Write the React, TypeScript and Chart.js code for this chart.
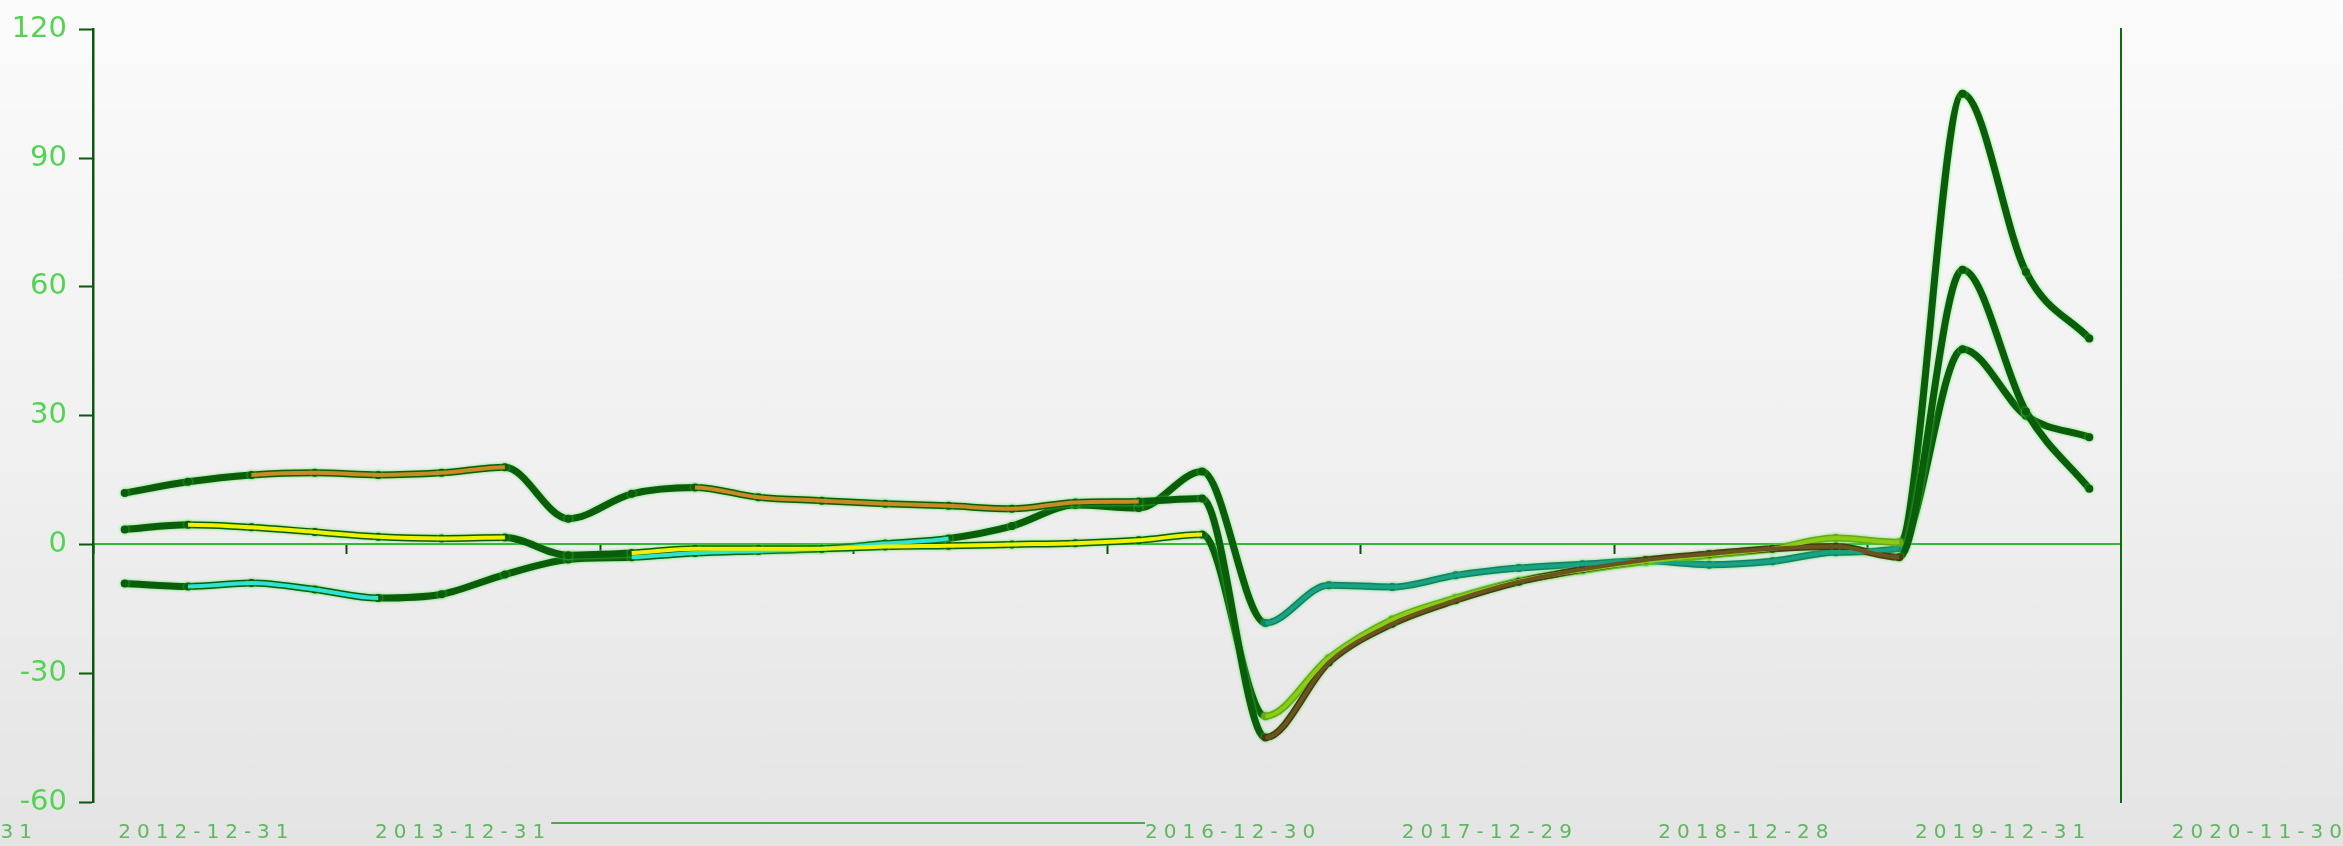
import React, { useEffect, useRef } from 'react';
import { Chart, registerables } from 'chart.js';

Chart.register(...registerables);

// ---- data ----
const CATEGORIES = [
  '2013-03-31', '2013-06-30', '2013-09-30', '2013-12-31',
  '2014-03-31', '2014-06-30', '2014-09-30', '2014-12-31',
  '2015-03-31', '2015-06-30', '2015-09-30', '2015-12-31',
  '2016-03-31', '2016-06-30', '2016-09-30', '2016-12-31',
  '2017-03-31', '2017-06-30', '2017-09-30', '2017-12-31',
  '2018-03-31', '2018-06-30', '2018-09-30', '2018-12-31',
  '2019-03-31', '2019-06-30', '2019-09-30', '2019-12-31',
  '2020-03-31', '2020-06-30', '2020-09-30', '2020-12-31',
];

const SERIES_A = [12, 14.6, 16.2, 16.7, 16.2, 16.7, 18, 6, 11.8, 13.3, 11, 10.2, 9.5, 9, 8.3, 9.8, 10, 10.7, -45, -27.5, -18.5, -13, -8.7, -5.8, -3.6, -2.2, -1, -0.5, -3, 64, 31, 13];
const SERIES_B = [3.5, 4.6, 4, 2.9, 1.8, 1.4, 1.6, -2.5, -2, -1, -1, -1, -0.5, -0.3, 0, 0.3, 1, 2.3, -40, -26.5, -17.5, -12.5, -8.5, -6, -4, -2.5, -1, 1.5, 0.5, 105, 63.5, 48];
const SERIES_C = [-9.1, -9.8, -9, -10.5, -12.5, -11.6, -7, -3.5, -3, -2, -1.5, -1, 0.2, 1.4, 4.3, 9.2, 8.5, 17, -18.3, -9.5, -9.9, -7.2, -5.5, -4.6, -3.8, -4.7, -3.9, -1.8, -0.9, 45.5, 30, 25];

const Y_MIN = -60;
const Y_MAX = 120;
const Y_STEP = 30;

const BOTTOM_LABELS = ['2011-12-31', '2012-12-31', '2013-12-31', '', '', '2016-12-30', '2017-12-29', '2018-12-28', '2019-12-31', '2020-11-30'];

// ---- styles ----
const DARK = '#0a5e0a';
const DIP_FIRST = 18;
const DIP_LAST = 28;

const STYLES = [
  { name: 'A', data: SERIES_A, color: '#cc8a22', dipEdge: '#4a3a12', dipCore: '#6a5520', hl: [[2, 6], [9, 16]] },
  { name: 'B', data: SERIES_B, color: '#f0f000', dipEdge: '#6aa812', dipCore: '#8ccc16', hl: [[1, 6], [8, 17]] },
  { name: 'C', data: SERIES_C, color: '#2ee3d6', dipEdge: '#11806a', dipCore: '#1aa383', hl: [[1, 4], [8, 13]] },
];

const inRanges = (i: number, ranges: number[][]) => ranges.some(([a, b]) => i >= a && i < b);
const inDipSeg = (i: number) => i >= DIP_FIRST && i < DIP_LAST;
const inDipPt = (i: number) => i >= DIP_FIRST && i <= DIP_LAST;

const glowPlugin = {
  id: 'glow',
  beforeDatasetDraw(chart: any, args: any) {
    if (chart.data.datasets[args.index].order === 1) {
      const c = chart.ctx;
      c.save();
      c.shadowColor = 'rgba(80,225,80,0.85)';
      c.shadowBlur = 3;
    }
  },
  afterDatasetDraw(chart: any, args: any) {
    if (chart.data.datasets[args.index].order === 1) {
      chart.ctx.restore();
    }
  },
};

const bottomLabelsPlugin = {
  id: 'bottomLabels',
  afterDraw(chart: any) {
    const { ctx, chartArea } = chart;
    const catW = (chartArea.right - chartArea.left) / CATEGORIES.length;
    const step = catW * 4.05;
    const x0 = chartArea.left + catW * 1.79 - step;
    const yText = chartArea.bottom + 31;
    ctx.save();
    ctx.font = '20px "DejaVu Sans"';
    try { (ctx as any).letterSpacing = '6px'; } catch (e) {}
    const half = ctx.measureText('2016-12-30').width / 2;
    ctx.textAlign = 'center';
    ctx.textBaseline = 'middle';
    ctx.fillStyle = 'rgba(45,165,45,0.72)';
    BOTTOM_LABELS.forEach((t, k) => {
      if (t) ctx.fillText(t, x0 + k * step, yText);
    });
    // overline across the run of empty label slots
    let k = 0;
    while (k < BOTTOM_LABELS.length) {
      if (!BOTTOM_LABELS[k]) {
        let e = k;
        while (e < BOTTOM_LABELS.length && !BOTTOM_LABELS[e]) e++;
        const xa = x0 + (k - 1) * step + half;
        const xb = x0 + e * step - half;
        ctx.strokeStyle = 'rgba(40,150,40,0.8)';
        ctx.lineWidth = 2;
        ctx.beginPath();
        ctx.moveTo(xa, yText - 10);
        ctx.lineTo(xb, yText - 10);
        ctx.stroke();
        k = e;
      } else {
        k++;
      }
    }
    ctx.restore();
  },
};

export default function App() {
  const canvasRef = useRef<HTMLCanvasElement | null>(null);

  useEffect(() => {
    if (!canvasRef.current) return;

    const cores = STYLES.map((s) => ({
      label: s.name + ' core',
      data: s.data,
      borderColor: s.color,
      borderWidth: 4,
      pointRadius: 0,
      tension: 0.4,
      cubicInterpolationMode: 'monotone' as const,
      order: 0,
      segment: {
        borderColor: (ctx: any) =>
          inDipSeg(ctx.p0DataIndex) ? s.dipCore : inRanges(ctx.p0DataIndex, s.hl) ? s.color : 'rgba(0,0,0,0)',
      },
    }));

    const outlines = STYLES.map((s) => ({
      label: s.name,
      data: s.data,
      borderColor: DARK,
      borderWidth: 7,
      pointRadius: 4,
      pointBorderWidth: 0,
      pointBackgroundColor: (ctx: any) => (inDipPt(ctx.dataIndex) ? s.dipEdge : DARK),
      tension: 0.4,
      cubicInterpolationMode: 'monotone' as const,
      order: 1,
      segment: {
        borderColor: (ctx: any) => (inDipSeg(ctx.p0DataIndex) ? s.dipEdge : DARK),
      },
    }));

    const chart = new Chart(canvasRef.current, {
      type: 'line',
      data: { labels: CATEGORIES, datasets: [...cores, ...outlines] as any },
      options: {
        animation: false,
        responsive: true,
        maintainAspectRatio: false,
        events: [],
        layout: { padding: { top: 25, bottom: 44, left: 0, right: 0 } },
        plugins: { legend: { display: false }, tooltip: { enabled: false } },
        scales: {
          x: {
            type: 'category',
            position: { y: 0 } as any,
            offset: true,
            ticks: { display: false },
            grid: {
              offset: true,
              drawOnChartArea: false,
              drawTicks: true,
              tickLength: 9,
              tickWidth: 2,
              tickColor: (ctx: any) => (typeof ctx.index === 'number' && ctx.index % 4 === 0 ? '#0b4f0b' : 'rgba(0,0,0,0)'),
            },
            border: { display: true, color: '#35b935', width: 2 },
          },
          y: {
            type: 'linear',
            position: 'left',
            min: Y_MIN,
            max: Y_MAX,
            ticks: {
              stepSize: Y_STEP,
              color: '#52d452',
              padding: 12,
              font: { family: 'DejaVu Sans', size: 29 },
            },
            grid: {
              drawOnChartArea: false,
              drawTicks: true,
              tickLength: 14,
              tickWidth: 2,
              tickColor: '#0b5a0b',
            },
            border: { display: true, color: '#0b5a0b', width: 2.5 },
            afterFit: (scale: any) => { scale.width = 93; },
          },
          y2: {
            type: 'linear',
            position: 'right',
            min: Y_MIN,
            max: Y_MAX,
            ticks: { display: false },
            grid: { drawOnChartArea: false, drawTicks: false },
            border: { display: true, color: '#0d6a0d', width: 2 },
            afterFit: (scale: any) => { scale.width = 222; },
          },
        },
      },
      plugins: [glowPlugin, bottomLabelsPlugin],
    });

    return () => chart.destroy();
  }, []);

  return (
    <div
      style={{
        position: 'fixed',
        left: 0,
        top: 0,
        width: '100vw',
        height: '100vh',
        background: 'linear-gradient(to bottom, #fbfbfb 0%, #f1f1f1 50%, #e4e4e4 100%)',
      }}
    >
      <canvas ref={canvasRef} />
    </div>
  );
}
